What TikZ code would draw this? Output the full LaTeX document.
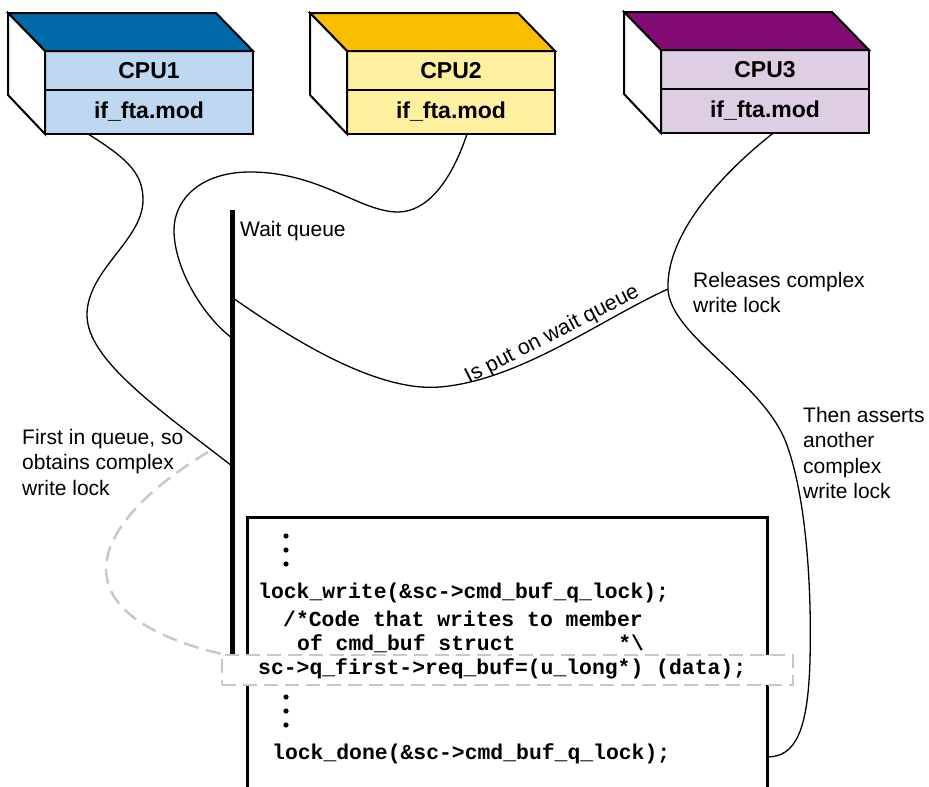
\documentclass[tikz,border=0pt]{standalone}
\usepackage{fontspec}
\setmainfont{Liberation Sans}
\setmonofont{Liberation Mono}
\usetikzlibrary{positioning, calc}
\definecolor{CPUAtop}{RGB}{0,105,168}
\definecolor{CPUAfront}{RGB}{189,216,240}
\definecolor{CPUBtop}{RGB}{250,190,0}
\definecolor{CPUBfront}{RGB}{255,240,160}
\definecolor{CPUCtop}{RGB}{130,12,116}
\definecolor{CPUCfront}{RGB}{221,206,228}
\definecolor{hlgray}{RGB}{200,200,200}
\newcommand{\cpudx}{-37}
\newcommand{\cpudy}{-38}
\tikzset{cpuhead/.style={draw, line width=2pt, outer sep=0pt, inner sep=0pt, minimum width=208pt, minimum height=39pt, font=\fontsize{23}{27}\selectfont\bfseries}}
\tikzset{cpubody/.style={cpuhead, minimum height=44pt}}
\tikzset{boxedge/.style={line width=2pt, line join=miter}}
\tikzset{wire/.style={line width=1.3pt}}
\tikzset{note/.style={align=left, inner sep=0pt, anchor=north west, font=\fontsize{21}{25.5}\selectfont}}
\tikzset{code/.style={inner sep=0pt, anchor=west, font=\fontsize{21.4}{25}\selectfont\ttfamily\bfseries}}
\tikzset{hlbox/.style={draw=hlgray, fill=white, dash pattern=on 14pt off 7pt, line width=2.5pt, minimum width=571pt, minimum height=30pt}}
\tikzset{hlwire/.style={draw=hlgray, dash pattern=on 15pt off 8pt, line width=2.5pt}}
% 3d cpu box: name, centre of head, top colour, front colour, label
\newcommand{\cpubox}[5]{
  \node[cpuhead, fill=#4] (cpu#1) at (#2) {#5};
  \node[cpubody, fill=#4, below=0pt of cpu#1] (mod#1) {if\_fta.mod};
  \draw[boxedge, fill=#3] (cpu#1.north west) -- ++(\cpudx,\cpudy) -- ++(208,0) -- (cpu#1.north east) -- cycle;
  \draw[boxedge, fill=white] (cpu#1.north west) -- ++(\cpudx,\cpudy) -- ++(0,82) -- (mod#1.south west) -- cycle;
}
\begin{document}
\begin{tikzpicture}[x=1pt, y=-1pt]
  \useasboundingbox (0,0) rectangle (929,787);

  % --- the three cpus ---
  \cpubox{A}{149,70.5}{CPUAtop}{CPUAfront}{CPU1}
  \cpubox{B}{451,70.5}{CPUBtop}{CPUBfront}{CPU2}
  \cpubox{C}{765,69.5}{CPUCtop}{CPUCfront}{CPU3}

  % --- wait queue and code box ---
  \coordinate (wqtop) at (232,210);
  \coordinate (wqbot) at (232,662);
  \coordinate (wqA) at (232,466);
  \coordinate (wqB) at (232,338);
  \coordinate (wqput) at (233,298);
  \coordinate (release) at (668,289);
  \coordinate (firstq) at (208,452);
  \coordinate (cbTL) at (247,517);
  \coordinate (cbTR) at (767,517);
  \coordinate (cbdone) at (767,757);

  \node[note] (wqlabel) at (240,221) {Wait queue};
  \node[note] (firstlabel) at (22,429) {First in queue, so\\obtains complex\\write lock};
  \node[note] (rellabel) at (693,272) {Releases complex\\write lock};
  \node[note] (thenlabel) at (803,407) {Then asserts\\another\\complex\\write lock};

  \draw[line width=3pt] (247,787) -- (cbTL) -- (cbTR) -- (767,787);

  % --- cpu1 ---
  \draw[wire] ($(modA.south west)!.207!(modA.south east)$)
      .. controls (130,160) and (143,175) .. (143,200)
      .. controls (143,240) and (87,270) .. (87,315)
      .. controls (87,360) and (160,410) .. (wqA);

  % --- cpu2 ---
  \draw[wire] ($(modB.south west)!.577!(modB.south east)$)
      .. controls (450,185) and (425,212) .. (398,212)
      .. controls (360,212) and (320,172) .. (250,172)
      .. controls (200,172) and (174,200) .. (174,230)
      .. controls (174,270) and (205,318) .. (wqB);
  \draw[wire] (wqput)
      .. controls (300,345) and (380,392) .. (440,387)
      .. controls (520,380) and (600,320) .. (release)
      node[pos=.5, sloped, above, inner sep=3pt, font=\fontsize{21.5}{25}\selectfont] {Is put on wait queue};

  % --- cpu3 ---
  \draw[wire] ($(modC.south west)!.54!(modC.south east)$)
      .. controls (720,175) and (666,235) .. (release)
      .. controls (670,335) and (760,380) .. (785,440)
      .. controls (805,490) and (812,580) .. (810,660)
      .. controls (808,732) and (795,757) .. (cbdone);

  \draw[line width=5pt] (wqtop) -- (wqbot);

  % --- code ---
  \node[hlbox] (hl) at (507.5,670) {};
  \foreach \y in {536,550,564,697,711,725}
    \fill (286,\y) circle (2.6pt);
  \node[code] (lockw) at (258,593) {lock\_write(\&sc->cmd\_buf\_q\_lock);};
  \node[code] (cmtA) at (283,619) {/*Code that writes to member};
  \node[code] (cmtB) at (297,644) {of cmd\_buf struct\ \ \ \ \ \ \ \ *\textbackslash};
  \node[code] (scq) at (258,669) {sc->q\_first->req\_buf=(u\_long*) (data);};
  \node[code] (lockd) at (272,754) {lock\_done(\&sc->cmd\_buf\_q\_lock);};

  \draw[hlwire] (hl.north west)
      .. controls (60,615) and (80,530) .. (firstq);
\end{tikzpicture}
\end{document}
